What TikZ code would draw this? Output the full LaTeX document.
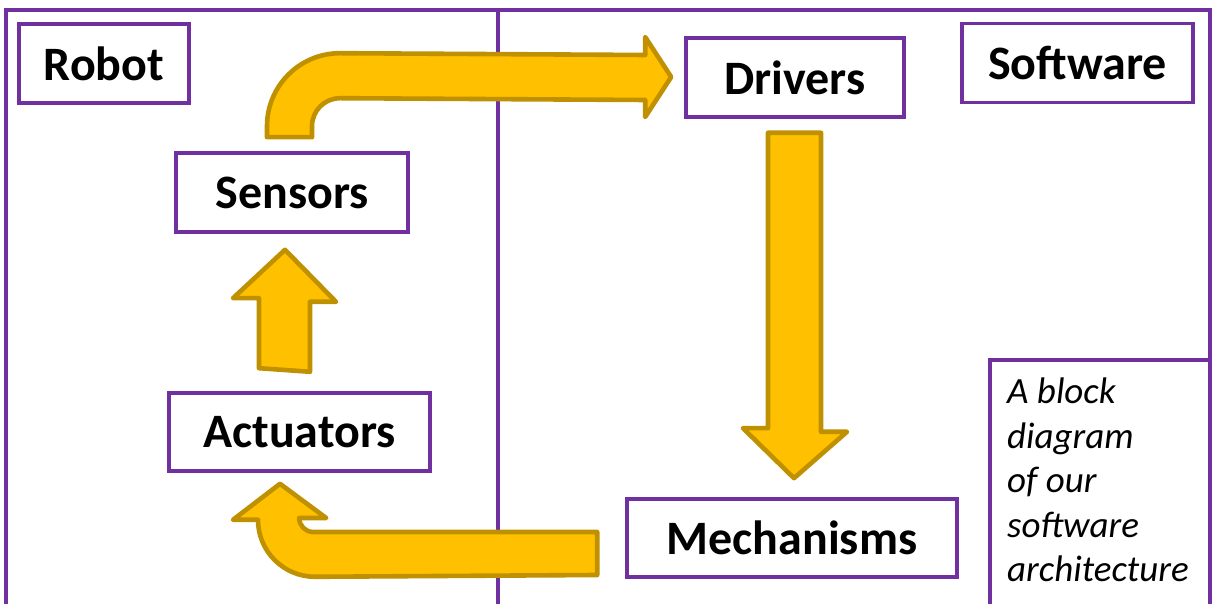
\documentclass[tikz,border=0pt]{standalone}
\usepackage{fontspec}
\setmainfont{Carlito}
\usepackage{tikz}
\usetikzlibrary{calc}
\definecolor{boxpurple}{HTML}{7030A0}
\definecolor{arrowgold}{HTML}{FFC000}
\definecolor{arrowedge}{HTML}{BF9000}
\tikzstyle{box} = [rectangle, draw=boxpurple, line width=3.6pt, inner sep=0pt, minimum height=79pt, font=\bfseries\fontsize{48}{57}\selectfont]
\tikzstyle{frame} = [draw=boxpurple, line width=4pt]
\tikzstyle{blockarrow} = [fill=arrowgold, draw=arrowedge, line width=4.6pt, line join=round]
\tikzstyle{note} = [inner sep=0pt, align=left, font=\itshape\fontsize{37}{44.5}\selectfont]

\begin{document}
\begin{tikzpicture}[x=1pt, y=1pt]
                        \clip (0,0) rectangle (1213,604);
                        \draw[frame] (6,-10) -- (6,594) -- (1210,594) -- (1210,-10);
                        \draw[frame] (498,594) -- (498,-10);
                        \draw[frame] (990,-10) |- (1210,244);
                        \node[box, minimum width=170pt](robot) at (104,540.5){Robot};
                        \node[box, minimum width=231pt](software) at (1077.5,541){Software};
                        \node[box, minimum width=218pt](drivers) at (795,526.5){Drivers};
                        \node[box, minimum width=232pt](sensors) at (292,411.5){Sensors};
                        \node[box, minimum width=261pt, minimum height=78pt](actuators) at (299.5,172){Actuators};
                        \node[box, minimum width=330pt, minimum height=78pt](mech) at (792,66){Mechanisms};
                        \node[note, anchor=north west](note) at (1007,226){A block\\diagram\\of our\\software\\architecture};
                        \draw[blockarrow] ($(sensors.north)+(-25,14)$) -- ++(0,11)
                            arc[start angle=180, end angle=90, radius=73]
                            -- ($(drivers.west)+(-39,22.5)$) -- ++(0,18) -- ++(26,-40) -- ++(-26,-40) -- ++(0,17)
                            -- ($(sensors.north)+(48,53)$) arc[start angle=90, end angle=180, radius=28]
                            -- ++(0,-11) -- cycle;
                        \draw[blockarrow] ($(drivers.south)+(-27,-14)$) -- ++(53,0) -- ++(0,-299) -- ++(26,0)
                            -- ($(mech.north)+(2,19)$) -- ++(-51,50) -- ++(25,0) -- cycle;
                        \draw[blockarrow] ($(mech.west)+(-28,6)$) -- ++(-284,0)
                            arc[start angle=270, end angle=180, radius=14] -- ++(27,0)
                            -- ($(actuators.south)+(-19.5,-11)$) -- ++(-47,-36) -- ++(25,0)
                            arc[start angle=180, end angle=270, radius=57]
                            -- ($(mech.west)+(-28,-37)$) -- cycle;
                        \draw[blockarrow] ($(actuators.north)+(-40.5,23)$) -- ++(0,70) -- ++(-26,0)
                            -- ($(sensors.south)+(-7,-16)$) -- ++(51,-52) -- ++(-26,0) -- ++(0,-70) -- cycle;
                    \end{tikzpicture}
\end{document}
